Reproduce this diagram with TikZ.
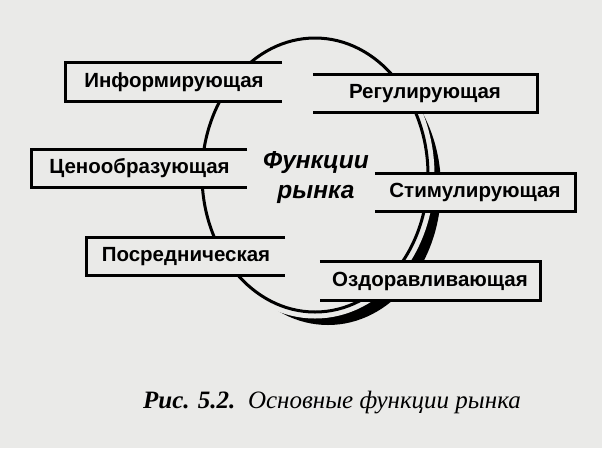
\documentclass[tikz,border=0pt]{standalone}
\usepackage{fontspec}
\setmainfont{Liberation Serif}
\newfontfamily\sansfam{Liberation Sans}
\usetikzlibrary{positioning}
\definecolor{paper}{RGB}{234,234,232}
\tikzset{
  func/.style={fill=paper, inner sep=0pt, minimum height=38pt,
    font=\sansfam\bfseries\fontsize{20.5}{25}\selectfont},
  boxline/.style={line width=3.2pt},
}

\begin{document}
\begin{tikzpicture}[x=1pt, y=-1pt]
    \fill[paper] (0,0) rectangle (602,448);
    \useasboundingbox (0,0) rectangle (602,448);

    \coordinate (mid) at (315,175);
    \fill ([shift={(13,13)}]mid) ellipse (113pt and 137pt);
    \draw[paper, line width=13pt, fill=paper] (mid) ellipse (113pt and 137pt);
    \draw[line width=3pt] (mid) ellipse (113pt and 137pt);

    \node[func, minimum width=216pt] (inf) at (174,82) {Информирующая};
    \node[func, minimum width=215pt] (cen) at (139.5,168.5) {Ценообразующая};
    \node[func, minimum width=198pt] (pos) at (186,256.5) {Посредническая};
    \node[func, minimum width=224pt] (reg) at (425,93.5) {Регулирующая};
    \node[func, minimum width=200pt] (stim) at (475,192.5) {Стимулирующая};
    \node[func, minimum width=220pt] (ozd) at (430,281) {Оздоравливающая};

    \foreach \f in {inf,cen,pos}
      \draw[boxline] (\f.north east) -- (\f.north west) -- (\f.south west) -- (\f.south east);
    \foreach \f in {reg,stim,ozd}
      \draw[boxline] (\f.north west) -- (\f.north east) -- (\f.south east) -- (\f.south west);

    \node[font=\sansfam\bfseries\itshape\fontsize{24.5}{30}\selectfont, align=center]
      (title) at (316,178) {Функции\\рынка};

    \node[font=\fontsize{25}{30}\selectfont\itshape]
      (cap) at (332,403) {\textbf{Рис. 5.2.}\ \ Основные функции рынка};
\end{tikzpicture}
\end{document}
